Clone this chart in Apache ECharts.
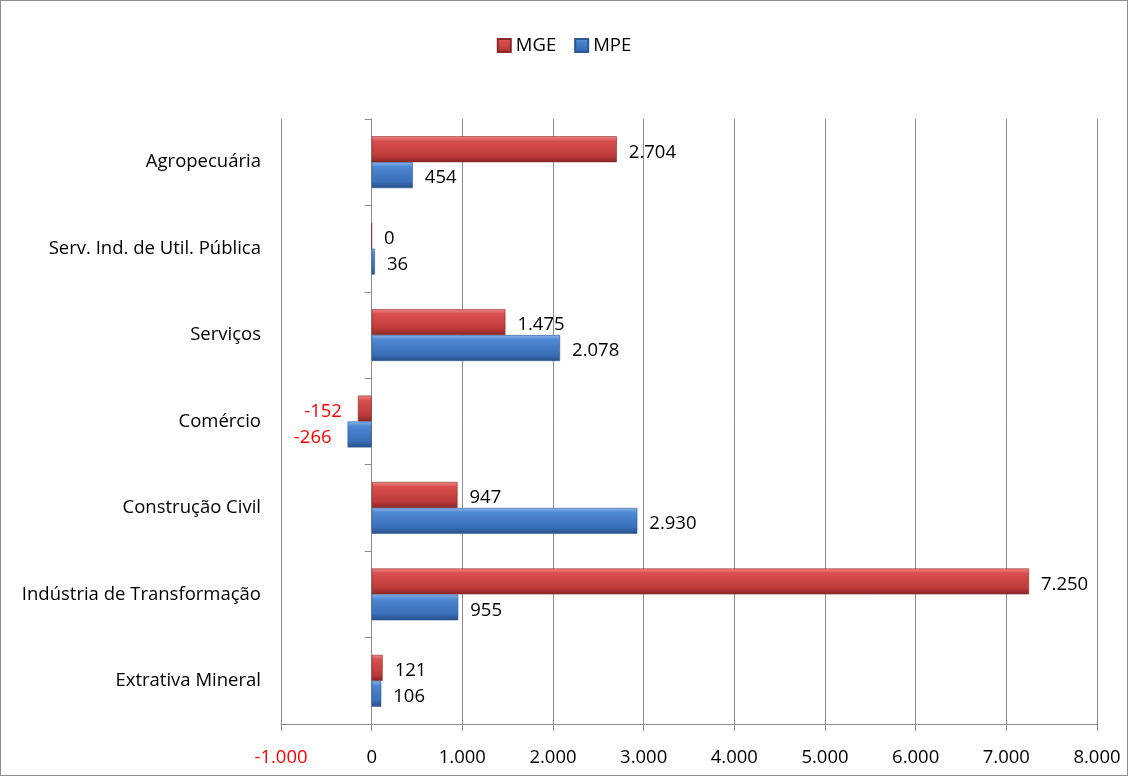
<!DOCTYPE html>
<html><head><meta charset="utf-8">
<script src="https://cdn.jsdelivr.net/npm/echarts@6/dist/echarts.min.js"></script>
<style>
html,body{margin:0;padding:0;background:#fff;}
#c{position:absolute;left:0;top:0;width:1126px;height:774px;border:1px solid #8c8c8c;}
</style></head>
<body><div id="c"></div>
<script>
const categories = ['Extrativa Mineral','Indústria de Transformação','Construção Civil','Comércio','Serviços','Serv. Ind. de Util. Pública','Agropecuária'];
const mgeValues = [121, 7250, 947, -152, 1475, 0, 2704];
const mpeValues = [106, 955, 2930, -266, 2078, 36, 454];
const xTicks = [-1000, 0, 1000, 2000, 3000, 4000, 5000, 6000, 7000, 8000];

const FONT = 'Open Sans';
const FS = 18.5;
function fmt(v){
  const s = String(Math.abs(v)).replace(/\B(?=(\d{3})+(?!\d))/g, '.');
  return (v < 0 ? '-' : '') + s;
}
function grad(c1, c2, c3, c4){
  return {type:'linear', x:0, y:0, x2:0, y2:1, colorStops:[
    {offset:0, color:c1},{offset:0.18, color:c2},{offset:0.75, color:c3},{offset:1, color:c4}]};
}
const redFill = grad('#f08a88', '#d9504e', '#be3b39', '#8a2624');
const blueFill = grad('#8ab4ea', '#4f88d4', '#3a6eb8', '#284f86');

function mkData(vals){
  return vals.map(v => v < 0
    ? {value:v, label:{position:'left', distance:16, color:'#ff0000'}}
    : {value:v});
}
const labelBase = {show:true, position:'right', distance:12, offset:[0,3], fontFamily:FONT, fontSize:FS, color:'#000', formatter: p => fmt(p.value)};

const chart = echarts.init(document.getElementById('c'));
chart.setOption({
  animation:false,
  legend:{data:['MGE','MPE'], top:30, left:'center', itemWidth:13, itemHeight:13, itemGap:18,
    textStyle:{fontFamily:FONT, fontSize:FS, color:'#000'}, icon:'rect'},
  grid:{left:280, right:30, top:118, bottom:51, containLabel:false},
  xAxis:{type:'value', min:-1000, max:8000, interval:1000,
    axisLine:{show:true, onZero:false, lineStyle:{color:'#8c8c8c', width:1}},
    axisTick:{show:true, length:7, lineStyle:{color:'#8c8c8c'}},
    splitLine:{show:true, lineStyle:{color:'#8c8c8c', width:1}},
    axisLabel:{margin:24, fontFamily:FONT, fontSize:FS,
      color: v => v < 0 ? '#ff0000' : '#000', formatter: v => fmt(v)}},
  yAxis:[
    {type:'category', data:categories, position:'left',
      axisLine:{show:false}, axisTick:{show:false},
      axisLabel:{margin:20, fontFamily:FONT, fontSize:FS, color:'#000', padding:[8,0,0,0]}},
    {type:'category', data:categories, position:'left', offset:-90.7,
      axisLine:{show:true, onZero:false, lineStyle:{color:'#8c8c8c'}},
      axisTick:{show:true, length:7, lineStyle:{color:'#8c8c8c'}},
      axisLabel:{show:false}}
  ],
  series:[
    {name:'MGE', type:'bar', data:mkData(mgeValues), barGap:'0%', barCategoryGap:'40%',
      itemStyle:{color:redFill, borderColor:'#8a2a28', borderWidth:0.6},
      label:labelBase},
    {name:'MPE', type:'bar', data:mkData(mpeValues), barGap:'0%', barCategoryGap:'40%',
      itemStyle:{color:blueFill, borderColor:'#2c5a94', borderWidth:0.6},
      label:labelBase}
  ]
});
</script></body></html>
